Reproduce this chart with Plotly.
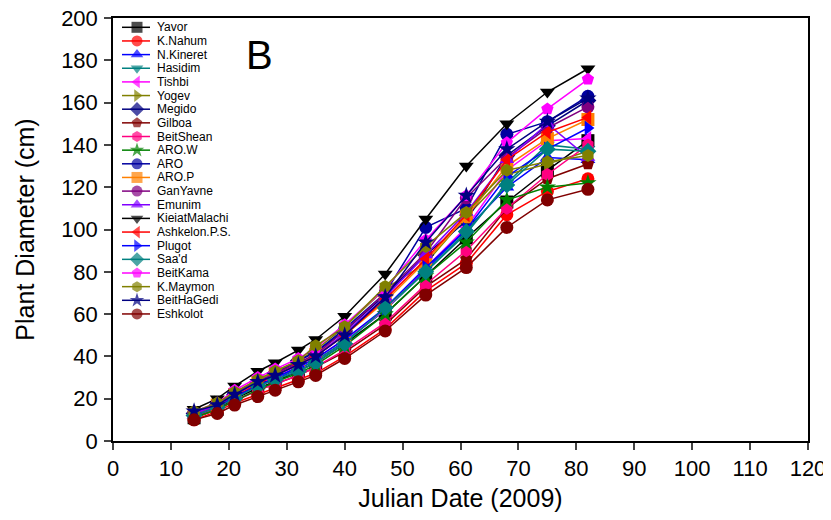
import plotly.graph_objects as go

days = [14, 18, 21, 25, 28, 32, 35, 40, 47, 54, 61, 68, 75, 82]

names = ["Yavor", "K.Nahum", "N.Kineret", "Hasidim", "Tishbi", "Yogev", "Megido", "Gilboa",
         "BeitShean", "ARO.W", "ARO", "ARO.P", "GanYavne", "Emunim", "KieiatMalachi",
         "Ashkelon.P.S.", "Plugot", "Saa'd", "BeitKama", "K.Maymon", "BeitHaGedi", "Eshkolot"]

yavor = [11, 15, 20, 25, 28, 33, 37, 46, 60, 78, 96, 113, 128, 142]
k_nahum = [10, 14, 18, 22, 25, 29, 32, 40, 53, 71, 84, 107, 118, 124]
n_kineret = [12, 16, 21, 26, 29, 34, 38, 47, 62, 81, 100, 120, 134, 133]
hasidim = [12, 16, 21, 26, 30, 34, 38, 47, 62, 80, 98, 122, 140, 138]
tishbi = [12, 16, 21, 27, 30, 35, 39, 48, 62, 82, 101, 128, 142, 143]
yogev = [13, 18, 23, 29, 33, 38, 43, 54, 72, 84, 106, 126, 131, 137]
megido = [13, 17, 22, 28, 32, 38, 42, 52, 69, 88, 104, 135, 149, 161]
gilboa = [11, 15, 19, 24, 27, 31, 35, 42, 55, 73, 86, 110, 124, 131]
beitshean = [11, 15, 19, 24, 27, 31, 35, 43, 56, 74, 90, 110, 126, 140]
aro_w = [11, 15, 19, 24, 28, 32, 36, 45, 60, 78, 94, 114, 120, 122]
aro = [13, 17, 22, 28, 32, 38, 42, 53, 70, 101, 110, 145, 151, 163]
aro_p = [13, 17, 22, 28, 32, 36, 41, 50, 66, 85, 106, 130, 143, 152]
ganyavne = [13, 17, 23, 28, 32, 37, 41, 52, 70, 89, 115, 134, 148, 158]
emunim = [13, 17, 22, 28, 31, 36, 40, 51, 68, 88, 108, 133, 150, 134]
kieiatmalachi = [15, 20, 26, 33, 37, 43, 48, 59, 79, 105, 130, 150, 165, 176]
ashkelon = [12, 16, 21, 27, 31, 36, 40, 50, 67, 86, 107, 133, 146, 153]
plugot = [12, 16, 21, 26, 30, 35, 39, 48, 63, 82, 100, 125, 138, 148]
saad = [12, 16, 20, 26, 29, 33, 37, 46, 63, 80, 99, 121, 138, 137]
beitkama = [14, 18, 24, 30, 34, 39, 44, 55, 72, 95, 116, 141, 157, 171]
k_maymon = [14, 18, 23, 29, 33, 38, 45, 54, 73, 92, 108, 128, 132, 135]
beithagedi = [14, 17, 22, 28, 31, 36, 40, 50, 68, 94, 116, 138, 151, 162]
eshkolot = [10, 13, 17, 21, 24, 28, 31, 39, 52, 69, 82, 101, 114, 119]

series = [yavor, k_nahum, n_kineret, hasidim, tishbi, yogev, megido, gilboa, beitshean, aro_w,
          aro, aro_p, ganyavne, emunim, kieiatmalachi, ashkelon, plugot, saad, beitkama,
          k_maymon, beithagedi, eshkolot]

colors = ["#000000", "#FF0000", "#0000FF", "#008080", "#FF00FF", "#808000", "#000080", "#800000",
          "#FF0080", "#008000", "#0000A0", "#FF8000", "#800080", "#8000FF", "#000000",
          "#FF0000", "#0000FF", "#008080", "#FF00FF", "#808000", "#000080", "#800000"]

symbols = ["square", "circle", "triangle-up", "triangle-down", "triangle-left", "triangle-right",
           "diamond", "pentagon", "hexagon", "star", "circle", "square", "circle", "triangle-up",
           "triangle-down", "triangle-left", "triangle-right", "diamond", "pentagon", "hexagon",
           "star", "circle"]

x_ticks = list(range(0, 121, 10))
y_ticks = list(range(0, 201, 20))

FONT = "Liberation Sans, Arial, sans-serif"

fig = go.Figure()
for name, vals, col, sym in zip(names, series, colors, symbols):
    fig.add_trace(go.Scatter(
        x=days, y=vals, mode="lines+markers", name=name, showlegend=False,
        line=dict(color=col, width=1.5),
        marker=dict(symbol=sym, size=13, color=col, line=dict(width=0)),
    ))

# custom compact legend drawn on an overlay pixel axis (page pixel coordinates)
leg_y0 = 27.3
leg_dy = 13.65
for i, (name, col, sym) in enumerate(zip(names, colors, symbols)):
    yy = leg_y0 + i * leg_dy
    fig.add_trace(go.Scatter(
        x=[122, 137, 150], y=[yy, yy, yy], mode="lines+markers", xaxis="x2", yaxis="y2",
        showlegend=False, hoverinfo="skip",
        line=dict(color=col, width=1.5),
        marker=dict(symbol=sym, size=[0, 11, 0], color=col, line=dict(width=0)),
    ))
    fig.add_annotation(x=155, y=yy, xref="x2", yref="y2", text=name, showarrow=False,
                       xanchor="left", yanchor="middle",
                       font=dict(family=FONT, size=12, color="black"))

fig.add_annotation(x=259, y=55, xref="x2", yref="y2", text="B", showarrow=False,
                   xanchor="center", yanchor="middle",
                   font=dict(family=FONT, size=40, color="black"))

fig.update_layout(
    width=823, height=504,
    margin=dict(l=105, r=23, t=10, b=71, autoexpand=False),
    plot_bgcolor="white", paper_bgcolor="white",
    font=dict(family=FONT, color="black"),
    xaxis=dict(range=[0, 120], tickvals=x_ticks, ticks="outside", ticklen=7, tickwidth=1.5,
               showline=True, linecolor="black", linewidth=1.5, mirror=True, showgrid=False,
               zeroline=False, tickfont=dict(size=22, family=FONT), automargin=False,
               ticklabeloverflow="allow",
               title=dict(text="Julian Date (2009)", font=dict(size=25, family=FONT), standoff=10)),
    yaxis=dict(range=[0, 200], tickvals=y_ticks, ticks="outside", ticklen=7, tickwidth=1.5,
               showline=True, linecolor="black", linewidth=1.5, mirror=True, showgrid=False,
               zeroline=False, tickfont=dict(size=22, family=FONT), automargin=False,
               ticklabelstandoff=2, ticklabeloverflow="allow",
               title=dict(text="Plant Diameter (cm)", font=dict(size=25, family=FONT), standoff=19)),
    xaxis2=dict(overlaying="x", range=[113, 808], visible=False, fixedrange=True),
    yaxis2=dict(overlaying="y", range=[441, 18], visible=False, fixedrange=True),
)

fig.write_html("out.html")
